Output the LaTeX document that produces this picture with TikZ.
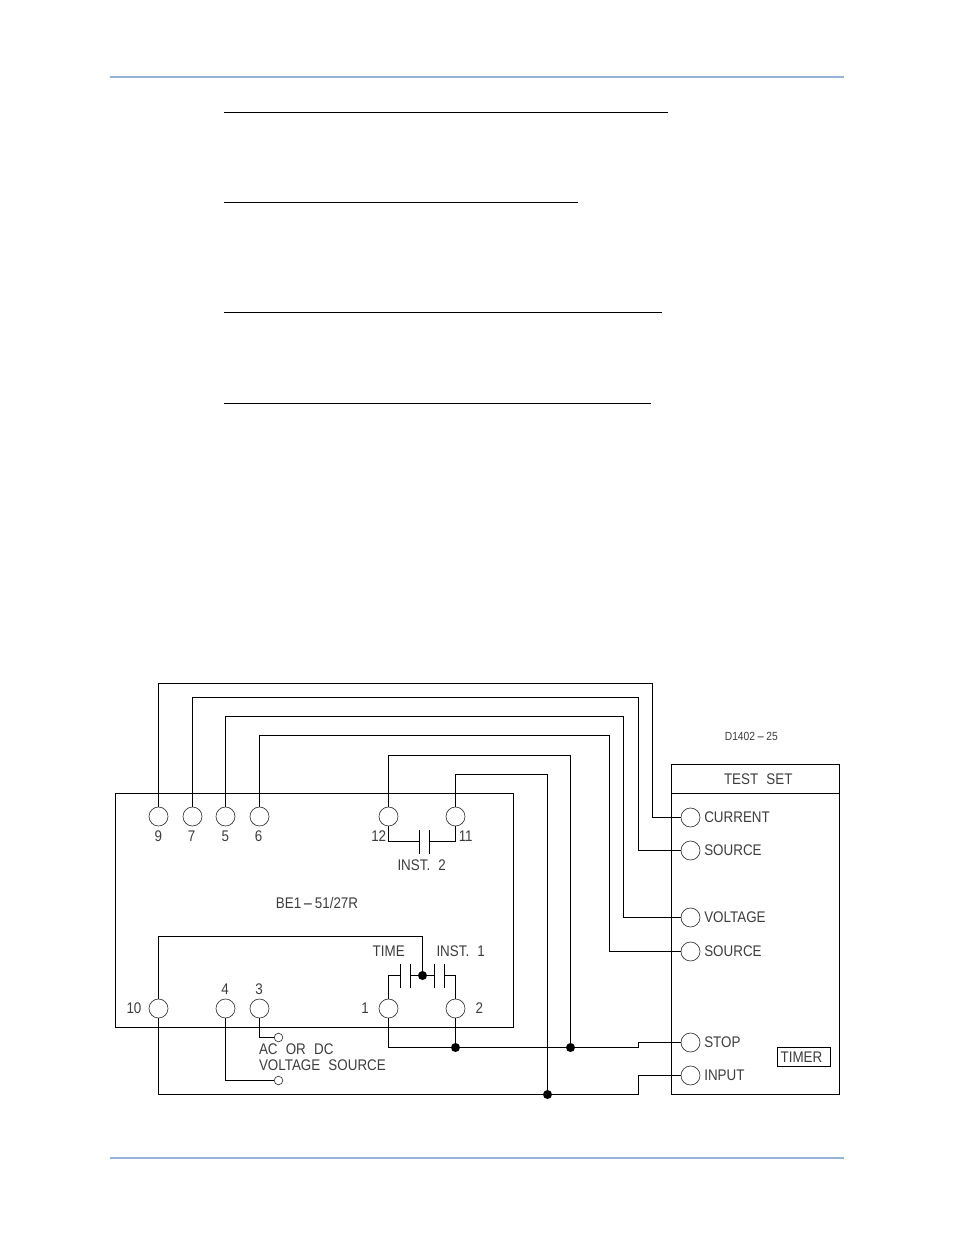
\documentclass[tikz,border=0pt]{standalone}
\usepackage{fontspec}
\setmainfont[FakeStretch=0.87,WordSpace=2.2]{Liberation Sans}
\definecolor{ruleblue}{HTML}{95B3D7}
\definecolor{labgray}{HTML}{3C3C3C}
\newcommand{\wdash}{\kern1.5pt\scalebox{2.4}[1]{-}\kern1.5pt}
\tikzset{
  wire/.style={line width=1.1pt,line join=miter},
  boxline/.style={line width=1.1pt},
  term/.style={circle,draw=black!80,line width=0.65pt,minimum size=19pt,inner sep=0pt,outer sep=0pt},
  small term/.style={circle,draw=black!80,line width=0.65pt,minimum size=8.6pt,inner sep=0pt,outer sep=0pt},
  junction/.style={circle,fill=black,minimum size=9pt,inner sep=0pt,outer sep=0pt},
  lab/.style={inner sep=0pt,outer sep=0pt,text=labgray,font=\fontsize{15.4}{16}\selectfont,text height=10.9pt,text depth=0pt},
  tiny lab/.style={lab,font=\fontsize{11.8}{12}\selectfont,text height=8.3pt},
  hrule/.style={line width=1.1pt},
  page rule/.style={draw=ruleblue,line width=2pt}
}
\begin{document}
\begin{tikzpicture}[x=1pt,y=-1pt]
\useasboundingbox (0,0) rectangle (954,1235);
% page furniture
\draw[page rule] (110,77) -- (844,77);
\draw[page rule] (110,1158) -- (844,1158);
\draw[hrule] (224,112.5) -- (667.5,112.5);
\draw[hrule] (224,202.5) -- (577.5,202.5);
\draw[hrule] (224,312.5) -- (662,312.5);
\draw[hrule] (224,403.5) -- (651,403.5);
% boxes
\node[draw,boxline,minimum width=398pt,minimum height=234pt,inner sep=0pt,outer sep=0pt] (relay) at (314.5,910.5) {};
\node[draw,boxline,minimum width=168pt,minimum height=330pt,inner sep=0pt,outer sep=0pt] (testset) at (755.5,929.5) {};
\coordinate (divL) at (671.5,793.5);
\coordinate (divR) at (839.5,793.5);
\draw[boxline] (divL) -- (divR);
\node[draw,line width=1pt,minimum width=53pt,minimum height=19pt,inner sep=0pt,outer sep=0pt] (timerbox) at (804,1057) {};
% relay terminals
\node[term] (t9) at (158.5,816.5) {};
\node[term] (t7) at (192.5,816.5) {};
\node[term] (t5) at (225.5,816.5) {};
\node[term] (t6) at (259.5,816.5) {};
\node[term] (t12) at (388.5,816.5) {};
\node[term] (t11) at (455.5,816.5) {};
\node[term] (t10) at (158.5,1008.5) {};
\node[term] (t4) at (225.5,1008.5) {};
\node[term] (t3) at (259.5,1008.5) {};
\node[term] (t1) at (388.5,1008.5) {};
\node[term] (t2) at (455.5,1008.5) {};
\node[small term] (s3) at (278.5,1037.5) {};
\node[small term] (s4) at (278.5,1080.5) {};
% test set terminals
\node[term] (cur) at (690.5,817.5) {};
\node[term] (srcA) at (690.5,850.5) {};
\node[term] (volt) at (690.5,917.5) {};
\node[term] (srcB) at (690.5,951.5) {};
\node[term] (stop) at (690.5,1042.5) {};
\node[term] (inp) at (690.5,1075.5) {};
% junctions
\node[junction] (jc) at (422.5,975.5) {};
\node[junction] (j2) at (455.5,1047.5) {};
\node[junction] (jstop) at (570.5,1047.5) {};
\node[junction] (jinp) at (547.5,1094.5) {};
% long wires
\draw[wire] (t9.north) |- (652.5,683.5) |- (cur.west);
\draw[wire] (t7.north) |- (638.5,697.5) |- (srcA.west);
\draw[wire] (t5.north) |- (623.5,716.5) |- (volt.west);
\draw[wire] (t6.north) |- (609.5,735.5) |- (srcB.west);
\draw[wire] (t12.north) |- (jstop.center |- 0,755.5) -- (jstop.center);
\draw[wire] (t11.north) |- (jinp.center |- 0,774.5) -- (jinp.center);
\draw[wire] (t1.south) |- (j2.center) -- (jstop.center) -- (638.5,1047.5) |- (stop.west);
\draw[wire] (t2.south) -- (j2.center);
\draw[wire] (t10.south) |- (jinp.center) -- (638.5,1094.5) |- (inp.west);
\draw[wire] (t3.south) |- (s3.west);
\draw[wire] (t4.south) |- (s4.west);
\draw[wire] (t10.north) |- (422.5,936.5) -- (jc.center);
% INST. 2 contact
\coordinate (p2a) at (419.5,841.5);
\coordinate (p2b) at (429.5,841.5);
\draw[wire] (t12.south) |- (p2a);
\draw[wire] (t11.south) |- (p2b);
\draw[wire] (419.5,830) -- (419.5,853.5);
\draw[wire] (429.5,830) -- (429.5,853.5);
% TIME / INST. 1 contacts
\coordinate (pta) at (400.5,975.5);
\coordinate (ptb) at (410.5,975.5);
\coordinate (pia) at (434.5,975.5);
\coordinate (pib) at (444.5,975.5);
\draw[wire] (t1.north) |- (pta);
\draw[wire] (ptb) -- (jc.center) -- (pia);
\draw[wire] (t2.north) |- (pib);
\foreach \px in {400.5,410.5,434.5,444.5}
  \draw[wire] (\px,964) -- (\px,987.7);
% labels
\node[lab] (l9) at (158.3,836) {9};
\node[lab] (l7) at (191.5,836) {7};
\node[lab] (l5) at (225.3,836) {5};
\node[lab] (l6) at (258.7,836) {6};
\node[lab] (l12) at (378.7,836) {12};
\node[lab] (l11) at (465.7,836) {11};
\node[lab] (linst2) at (421.7,865) {INST. 2};
\node[lab] (lrelay) at (317,903.3) {BE1\wdash 51/27R};
\node[lab] (ltime) at (388.7,951) {TIME};
\node[lab] (linst1) at (460.7,951) {INST. 1};
\node[lab] (l10) at (134,1008.3) {10};
\node[lab] (l4) at (225,989) {4};
\node[lab] (l3) at (259,989) {3};
\node[lab] (l1) at (365,1008.3) {1};
\node[lab] (l2) at (479.3,1008.3) {2};
\node[lab,anchor=west] (lac) at (259,1049) {AC OR DC};
\node[lab,anchor=west] (lvs) at (259,1065.3) {VOLTAGE SOURCE};
\node[tiny lab] (ldwg) at (751.3,736.7) {D1402\wdash 25};
\node[lab] (ltest) at (758.3,779) {TEST SET};
\node[lab,anchor=west] (lcur) at (704.3,817) {CURRENT};
\node[lab,anchor=west] (lsa) at (704.3,850.5) {SOURCE};
\node[lab,anchor=west] (lvolt) at (704.3,917.3) {VOLTAGE};
\node[lab,anchor=west] (lsb) at (704.3,951) {SOURCE};
\node[lab,anchor=west] (lstop) at (704.3,1042) {STOP};
\node[lab,anchor=west] (linp) at (704.3,1075.3) {INPUT};
\node[lab] (ltimer) at (801.5,1056.7) {TIMER};
\end{tikzpicture}
\end{document}
